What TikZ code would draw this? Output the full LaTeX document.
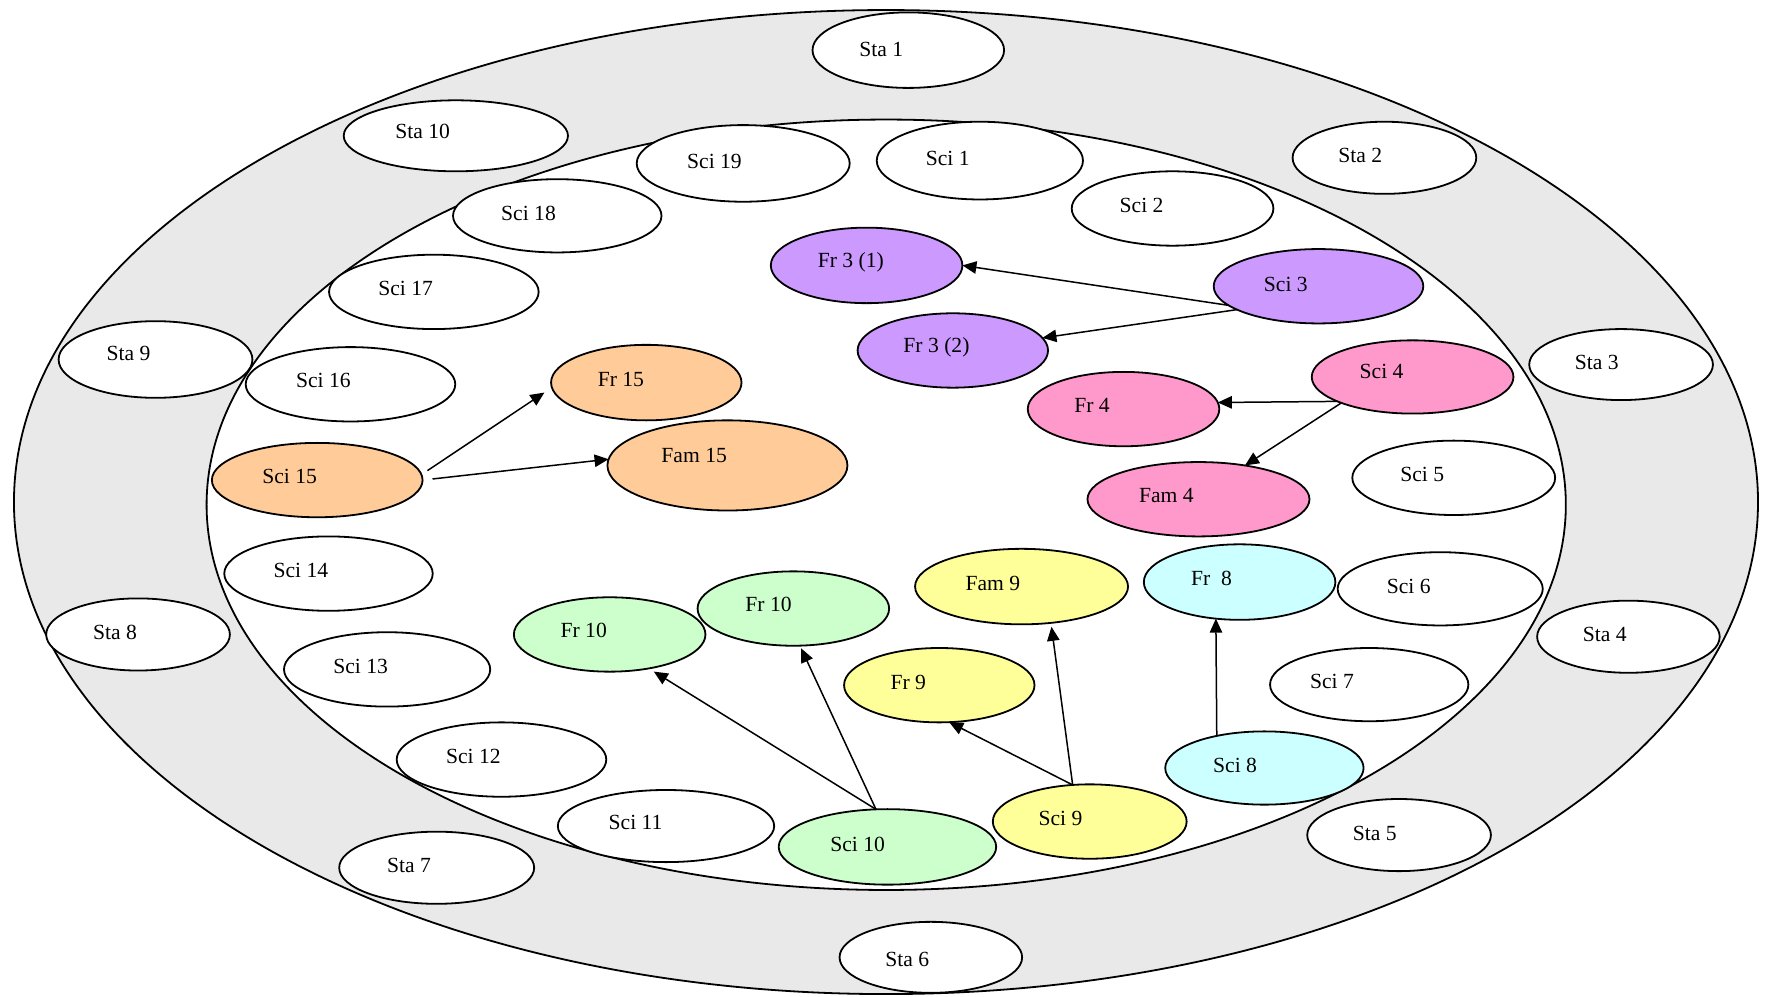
\documentclass[tikz,border=0pt]{standalone}
\usepackage{fontspec}
\setmainfont{Liberation Serif}
\usetikzlibrary{shapes.geometric,arrows.meta}

% one drawing unit
\newcommand{\pxu}{0.56345pt}

\definecolor{ringgray}{HTML}{E9E9E9}
\definecolor{lilac}{HTML}{CC99FF}
\definecolor{peach}{HTML}{FFCC99}
\definecolor{rose}{HTML}{FF99CC}
\definecolor{mint}{HTML}{CCFFCC}
\definecolor{lemon}{HTML}{FFFF99}
\definecolor{aqua}{HTML}{CCFFFF}

\tikzset{
  blob/.style={ellipse, draw=black, line width=0.9pt, inner sep=0pt, outer sep=0pt},
  plain/.style={blob, fill=white},
  grpA/.style={blob, fill=lilac},
  grpB/.style={blob, fill=rose},
  grpC/.style={blob, fill=peach},
  grpD/.style={blob, fill=mint},
  grpE/.style={blob, fill=lemon},
  grpF/.style={blob, fill=aqua},
  lbl/.style={inner sep=0pt, font=\fontsize{10.8pt}{13pt}\selectfont},
  ring/.style={draw=black, line width=0.9pt},
  link/.style={-{Triangle[length=7pt,width=6.2pt]}, line width=0.75pt},
}

% \bubble{name}{left}{right}{top}{bottom}{text x}{text y}{text}{style}
\newcommand{\bubble}[9]{%
  \node[#9, minimum width={(#3-#2)*\pxu}, minimum height={(#5-#4)*\pxu}]
    (#1) at ({(#2+#3)/2},{(#4+#5)/2}) {};
  \node[lbl] (#1t) at (#6,#7) {#8};
}

\begin{document}
\begin{tikzpicture}[x=\pxu, y=-\pxu]
\useasboundingbox (0,0) rectangle (1568,884);

% outer ring and inner field
\path[ring, fill=ringgray] (786.2,445.5) ellipse [x radius=436.0pt, y radius=246.0pt];
\path[ring, fill=white] (786.4,447.9) ellipse [x radius=339.8pt, y radius=192.6pt];

% outer ring
\bubble{sta1}{721}{891}{11}{78}{782}{44}{Sta 1}{plain}
\bubble{sta10}{305}{504}{89}{152}{375}{117}{Sta 10}{plain}
\bubble{sta2}{1147}{1310}{108}{172}{1207}{138}{Sta 2}{plain}
\bubble{sta9}{52}{224}{285}{353}{114}{314}{Sta 9}{plain}
\bubble{sta3}{1357}{1520}{292}{355}{1417}{322}{Sta 3}{plain}
\bubble{sta8}{41}{204}{531}{595}{102}{561}{Sta 8}{plain}
\bubble{sta4}{1364}{1526}{533}{597}{1424}{563}{Sta 4}{plain}
\bubble{sta5}{1160}{1323}{709}{773}{1220}{740}{Sta 5}{plain}
\bubble{sta7}{301}{474}{738}{802}{363}{768}{Sta 7}{plain}
\bubble{sta6}{745}{907}{818}{881}{805}{851}{Sta 6}{plain}

% inner field, plain
\bubble{sci19}{565}{754}{111}{179}{634}{143}{Sci 19}{plain}
\bubble{sci1}{778}{961}{108}{177}{841}{141}{Sci 1}{plain}
\bubble{sci2}{951}{1130}{152}{218}{1013}{182}{Sci 2}{plain}
\bubble{sci18}{402}{587}{159}{224}{469}{189}{Sci 18}{plain}
\bubble{sci17}{292}{478}{226}{292}{360}{256}{Sci 17}{plain}
\bubble{sci16}{218}{404}{308}{374}{287}{338}{Sci 16}{plain}
\bubble{sci5}{1200}{1380}{391}{457}{1262}{421}{Sci 5}{plain}
\bubble{sci14}{199}{384}{476}{542}{267}{506}{Sci 14}{plain}
\bubble{sci6}{1187}{1369}{490}{555}{1250}{520}{Sci 6}{plain}
\bubble{sci13}{252}{435}{561}{627}{320}{591}{Sci 13}{plain}
\bubble{sci7}{1127}{1303}{575}{640}{1182}{605}{Sci 7}{plain}
\bubble{sci12}{352}{538}{641}{707}{420}{671}{Sci 12}{plain}
\bubble{sci11}{495}{687}{701}{765}{564}{730}{Sci 11}{plain}

% coloured groups
\bubble{fr31}{684}{854}{202}{269}{755}{233}{Fr 3 (1)}{grpA}
\bubble{sci3}{1077}{1263}{221}{287}{1141}{252}{Sci 3}{grpA}
\bubble{fr32}{761}{930}{278}{344}{831}{308}{Fr 3 (2)}{grpA}

\bubble{sci4}{1164}{1343}{302}{367}{1226}{330}{Sci 4}{grpB}
\bubble{fr4}{912}{1082}{330}{396}{969}{360}{Fr 4}{grpB}
\bubble{fam4}{965}{1162}{410}{476}{1035}{440}{Fam 4}{grpB}

\bubble{fr15}{489}{658}{306}{373}{551}{337}{Fr 15}{grpC}
\bubble{sci15}{188}{375}{393}{459}{257}{423}{Sci 15}{grpC}
\bubble{fam15}{539}{752}{373}{453}{616}{404}{Fam 15}{grpC}

\bubble{fr10a}{456}{626}{530}{596}{518}{559}{Fr 10}{grpD}
\bubble{fr10b}{619}{789}{507}{573}{682}{536}{Fr 10}{grpD}
\bubble{sci10}{691}{884}{718}{785}{761}{749}{Sci 10}{grpD}

\bubble{fam9}{812}{1001}{487}{554}{881}{518}{Fam 9}{grpE}
\bubble{fr9}{749}{918}{575}{641}{806}{606}{Fr 9}{grpE}
\bubble{sci9}{881}{1053}{696}{762}{941}{726}{Sci 9}{grpE}

\bubble{fr8}{1015}{1185}{483}{550}{1075}{513}{Fr~~8}{grpF}
\bubble{sci8}{1034}{1210}{649}{714}{1096}{679}{Sci 8}{grpF}

% connectors
\draw[link] (sci3.192) -- (fr31.0);
\draw[link] (sci3.196) -- (fr32.8);
\draw[link] (sci4.198) -- (fr4.4);
\draw[link] (sci4.200) -- (fam4.36);
\draw[link, shorten <=3.6pt, shorten >=4.5pt] (sci15.3) -- (fr15.183);
\draw[link, shorten <=5pt] (sci15.0) -- (fam15.177);
\draw[link, shorten >=3pt] (sci10.107) -- (fr10a.319);
\draw[link, shorten >=1.5pt] (sci10.107) -- (fr10b.280);
\draw[link] (sci9.115) -- (fr9.285);
\draw[link, shorten >=2pt] (sci9.115) -- (fam9.309);
\draw[link] (sci8.146.5) -- (fr8.237);
\end{tikzpicture}
\end{document}
